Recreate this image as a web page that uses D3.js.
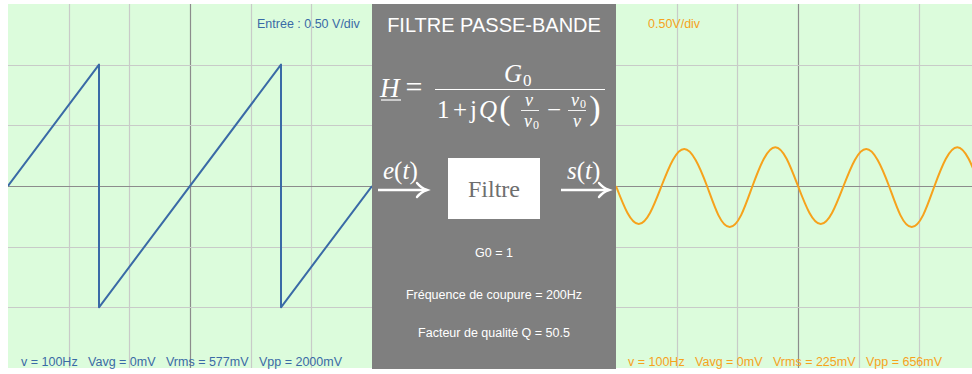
<!DOCTYPE html>
<html>
<head>
<meta charset="utf-8">
<script src="https://cdn.jsdelivr.net/npm/d3@7"></script>
<style>
  body { margin: 0; background: #fff; }
  svg { display: block; }
  text { white-space: pre; }
</style>
</head>
<body>
<svg id="chart" width="972" height="374"></svg>
<script>
// Input signal: 100 Hz sawtooth, ±1 V (time in ms, value in V)
const inputTimes  = [0, 5, 5, 15, 15, 20];
const inputValues = [0, 1, -1, 1, -1, 0];

// Output signal of the band-pass filter, sampled every 0.625 ms
const outputTimes = [
  0, 0.625, 1.25, 1.875, 2.5, 3.125, 3.75, 4.375,
  5, 5.625, 6.25, 6.875, 7.5, 8.125, 8.75, 9.375,
  10, 10.625, 11.25, 11.875, 12.5, 13.125, 13.75, 14.375,
  15, 15.625, 16.25, 16.875, 17.5, 18.125, 18.75, 19.375, 20
];
const outputValues = [
  0, -0.22, -0.313, -0.22, 0, 0.215, 0.305, 0.215,
  0, -0.24, -0.338, -0.24, 0, 0.225, 0.32, 0.225,
  0, -0.22, -0.313, -0.22, 0, 0.215, 0.305, 0.215,
  0, -0.24, -0.338, -0.24, 0, 0.225, 0.32, 0.225, 0
];

// Screen divisions: 6 × 3.33 ms horizontally, 6 × 0.5 V vertically
const timeDivisions = [0, 3.333, 6.667, 10, 13.333, 16.667, 20];
const voltDivisions = [-1.5, -1, -0.5, 0, 0.5, 1, 1.5];

// Labels
const inputScaleLabel  = "Entrée : 0.50 V/div";
const inputStats       = "v = 100Hz   Vavg = 0mV   Vrms = 577mV   Vpp = 2000mV";
const outputScaleLabel = "0.50V/div";
const outputStats      = "v = 100Hz   Vavg = 0mV   Vrms = 225mV   Vpp = 656mV";
const filterTitle      = "FILTRE PASSE-BANDE";
const filterParams     = ["G0 = 1", "Fréquence de coupure = 200Hz", "Facteur de qualité Q = 50.5"];

const W = 972, H = 374;
const SIZE = 364, TOP = 4;
const LEFT_X = 8, RIGHT_X = 616;
const BG = "#dcfcdc", GRID = "#c8cbc8", AXIS = "#8c8c8c", PANEL = "#7f7f7f";
const BLUE = "#3a6aa6", ORANGE = "#f6a21c";
const SANS = "'Liberation Sans', Arial, Helvetica, sans-serif";
const SERIF = "'Liberation Serif', 'Times New Roman', serif";
const LABEL_SIZE = 12.5;

const svg = d3.select("#chart");
svg.append("rect").attr("width", W).attr("height", H).attr("fill", "#fff");

const y = d3.scaleLinear().domain([-1.5, 1.5]).range([TOP + SIZE, TOP]);

function scope(x0, times, values, color, id) {
  const x = d3.scaleLinear().domain([0, 20]).range([x0, x0 + SIZE]);
  const g = svg.append("g");
  g.append("clipPath").attr("id", id)
    .append("rect").attr("x", x0).attr("y", TOP).attr("width", SIZE).attr("height", SIZE);
  g.append("rect").attr("x", x0).attr("y", TOP).attr("width", SIZE).attr("height", SIZE).attr("fill", BG);

  const inner = (d, i, arr) => i > 0 && i < arr.length - 1;
  g.selectAll(".vgrid").data(timeDivisions.filter(inner)).join("line")
    .attr("x1", d => Math.round(x(d)) + 0.5).attr("x2", d => Math.round(x(d)) + 0.5)
    .attr("y1", TOP).attr("y2", TOP + SIZE)
    .attr("stroke", d => d === 10 ? AXIS : GRID).attr("stroke-width", 1.2);
  g.selectAll(".hgrid").data(voltDivisions.filter(inner)).join("line")
    .attr("x1", x0).attr("x2", x0 + SIZE)
    .attr("y1", d => Math.round(y(d)) + 0.5).attr("y2", d => Math.round(y(d)) + 0.5)
    .attr("stroke", d => d === 0 ? AXIS : GRID).attr("stroke-width", 1.2);

  const pts = times.map((t, i) => [t, values[i]]);
  const line = d3.line().x(d => x(d[0])).y(d => y(d[1]))
    .curve(color === ORANGE ? d3.curveNatural : d3.curveLinear);
  g.append("path").attr("d", line(pts)).attr("clip-path", `url(#${id})`)
    .attr("fill", "none").attr("stroke", color).attr("stroke-width", 2)
    .attr("stroke-linejoin", "round");
  return g;
}

const left = scope(LEFT_X, inputTimes, inputValues, BLUE, "clipIn");
const right = scope(RIGHT_X, outputTimes, outputValues, ORANGE, "clipOut");

left.append("text").attr("x", 257).attr("y", 28).text(inputScaleLabel)
  .attr("font-family", SANS).attr("font-size", LABEL_SIZE).attr("fill", BLUE);
left.append("text").attr("x", 21).attr("y", 366).text(inputStats)
  .attr("font-family", SANS).attr("font-size", LABEL_SIZE).attr("fill", BLUE);
right.append("text").attr("x", 648).attr("y", 28).text(outputScaleLabel)
  .attr("font-family", SANS).attr("font-size", LABEL_SIZE).attr("fill", ORANGE);
right.append("text").attr("x", 628).attr("y", 366).text(outputStats)
  .attr("font-family", SANS).attr("font-size", LABEL_SIZE).attr("fill", ORANGE);

// Central filter panel
const mid = svg.append("g");
mid.append("rect").attr("x", 372).attr("y", TOP).attr("width", RIGHT_X - 372).attr("height", 365)
  .attr("fill", PANEL);
const cx = 494;
mid.append("text").attr("x", cx).attr("y", 32).attr("text-anchor", "middle").text(filterTitle)
  .attr("font-family", SANS).attr("font-size", 20).attr("fill", "#fff");

// Transfer function H = G0 / (1 + jQ(ν/ν0 − ν0/ν))
const f = mid.append("g").attr("fill", "#fff").attr("font-family", SERIF);
function t(xp, yp, s, size, italic, anchor) {
  return f.append("text").attr("x", xp).attr("y", yp).text(s)
    .attr("font-size", size).attr("font-style", italic ? "italic" : "normal")
    .attr("text-anchor", anchor || "start");
}
t(380, 97, "H", 27, true);
f.append("line").attr("x1", 381).attr("x2", 401).attr("y1", 100).attr("y2", 100)
  .attr("stroke", "#fff").attr("stroke-width", 1.2);
t(414, 97, "=", 30, false, "middle");
f.append("line").attr("x1", 435).attr("x2", 605).attr("y1", 89.5).attr("y2", 89.5)
  .attr("stroke", "#fff").attr("stroke-width", 1.1);
t(504, 82, "G", 25, true);
t(523, 86, "0", 17, false);
t(437, 118, "1", 25, false);
t(460, 118, "+", 25, false, "middle");
t(470, 118, "j", 25, false);
t(479, 118, "Q", 25, true);
t(505, 119, "(", 34, false, "middle");
t(529, 106, "ν", 18, true, "middle");
f.append("line").attr("x1", 521).attr("x2", 539).attr("y1", 110.5).attr("y2", 110.5)
  .attr("stroke", "#fff").attr("stroke-width", 0.9);
t(528, 127, "ν", 18, true, "middle");
t(533, 129, "0", 12, false);
t(554, 118, "−", 25, false, "middle");
t(575, 106, "ν", 18, true, "middle");
t(580, 108, "0", 12, false);
f.append("line").attr("x1", 568).attr("x2", 586).attr("y1", 110.5).attr("y2", 110.5)
  .attr("stroke", "#fff").attr("stroke-width", 0.9);
t(577, 127, "ν", 18, true, "middle");
t(595, 119, ")", 34, false, "middle");

// Block diagram: e(t) → [Filtre] → s(t)
function label(xp, v) {
  const tx = f.append("text").attr("x", xp).attr("y", 179).attr("font-size", 25);
  tx.append("tspan").attr("font-style", "italic").text(v);
  tx.append("tspan").text("(");
  tx.append("tspan").attr("font-style", "italic").text("t");
  tx.append("tspan").text(")");
}
label(383, "e");
label(567, "s");
function arrow(x1, x2) {
  mid.append("line").attr("x1", x1).attr("x2", x2 - 2).attr("y1", 190).attr("y2", 190)
    .attr("stroke", "#fff").attr("stroke-width", 2.6);
  mid.append("path")
    .attr("d", `M${x2 - 10},183 Q${x2 - 6},188 ${x2},190 Q${x2 - 6},192 ${x2 - 10},197`)
    .attr("fill", "none").attr("stroke", "#fff").attr("stroke-width", 2.4).attr("stroke-linecap", "round");
}
arrow(378, 427);
arrow(561, 609);
mid.append("rect").attr("x", 448).attr("y", 158).attr("width", 92).attr("height", 61).attr("fill", "#fff");
mid.append("text").attr("x", cx).attr("y", 197).attr("text-anchor", "middle").text("Filtre")
  .attr("font-family", SERIF).attr("font-size", 24).attr("fill", "#6e6e6e");

mid.selectAll(".param").data(filterParams).join("text")
  .attr("x", cx).attr("y", (d, i) => [257, 299, 337][i]).attr("text-anchor", "middle")
  .text(d => d).attr("font-family", SANS).attr("font-size", LABEL_SIZE).attr("fill", "#fff");
</script>
</body>
</html>
